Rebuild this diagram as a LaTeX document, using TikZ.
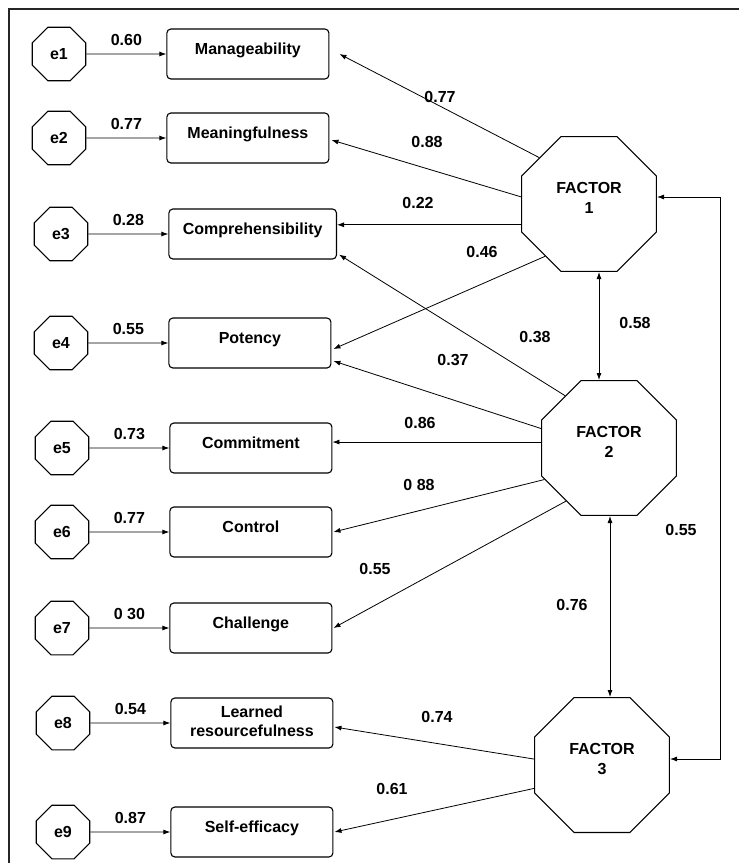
\documentclass[tikz,border=0pt]{standalone}
\usepackage{fontspec}
\setmainfont{Liberation Sans}
\usetikzlibrary{arrows.meta,positioning,shapes.geometric}

\begin{document}
\begin{tikzpicture}[
  x=1pt, y=-1pt,
  font=\fontsize{16}{19}\selectfont\bfseries,
  err/.style={draw, regular polygon, regular polygon sides=8,
    minimum size=58pt, inner sep=0pt, line width=1.1pt},
  fac/.style={draw, regular polygon, regular polygon sides=8,
    minimum size=146pt, inner sep=0pt, line width=1.1pt, align=center,
    text depth=12pt, font=\fontsize{16}{20}\selectfont\bfseries},
  box/.style={draw, rounded corners=4pt, minimum width=162pt,
    minimum height=50pt, inner xsep=14pt, align=center, line width=1.1pt,
    text depth=11pt},
  arr/.style={-{Latex[length=7pt, width=5pt]}, line width=0.8pt},
  dbl/.style={{Latex[length=7pt, width=5pt]}-{Latex[length=7pt, width=5pt]},
    line width=0.8pt},
  lbl/.style={inner sep=1pt}
]
  \useasboundingbox (0,0) rectangle (739,863);
  \draw[line width=2.5pt, black!85] (9,863) -- (9,9) -- (739,9);

  % error terms and indicators
  \node[err] (e1) at (59,54) {e1};
  \node[box, right=80pt of e1] (mng) {Manageability};
  \node[err] (e2) at (59,138) {e2};
  \node[box, right=80pt of e2] (mea) {Meaningfulness};
  \node[err] (e3) at (61,234) {e3};
  \node[box, right=80pt of e3] (cmp) {Comprehensibility};
  \node[err] (e4) at (61,343) {e4};
  \node[box, right=80pt of e4] (pot) {Potency};
  \node[err] (e5) at (62,448) {e5};
  \node[box, right=80pt of e5] (com) {Commitment};
  \node[err] (e6) at (62,532) {e6};
  \node[box, right=80pt of e6] (ctl) {Control};
  \node[err] (e7) at (62,628) {e7};
  \node[box, right=80pt of e7] (chl) {Challenge};
  \node[err] (e8) at (63,723) {e8};
  \node[box, right=80pt of e8, text depth=4pt] (lrn) {Learned\\resourcefulness};
  \node[err] (e9) at (63,832) {e9};
  \node[box, right=80pt of e9] (slf) {Self-efficacy};

  % factors
  \node[fac] (f1) at (589,204) {FACTOR\\1};
  \node[fac] (f2) at (609,448) {FACTOR\\2};
  \node[fac] (f3) at (602,765) {FACTOR\\3};

  \draw[arr] (e1) -- node[lbl, above=7pt] (w1) {0.60} (mng);
  \draw[arr] (e2) -- node[lbl, above=7pt] (w2) {0.77} (mea);
  \draw[arr] (e3) -- node[lbl, above=7pt] (w3) {0.28} (cmp);
  \draw[arr] (e4) -- node[lbl, above=7pt] (w4) {0.55} (pot);
  \draw[arr] (e5) -- node[lbl, above=7pt] (w5) {0.73} (com);
  \draw[arr] (e6) -- node[lbl, above=7pt] (w6) {0.77} (ctl);
  \draw[arr] (e7) -- node[lbl, above=7pt] (w7) {0 30} (chl);
  \draw[arr] (e8) -- node[lbl, above=7pt] (w8) {0.54} (lrn);
  \draw[arr] (e9) -- node[lbl, above=7pt] (w9) {0.87} (slf);

  % loadings
  \draw[arr] (f1.137) -- ([xshift=10pt]mng.east);
  \draw[arr] (f1.174) -- ([xshift=2pt, yshift=-2pt]mea.east);
  \draw[arr] (f1.197) -- (f1.197 -| cmp.east);
  \draw[arr] (f1.230) -- ([xshift=2pt, yshift=-6pt]pot.east);
  \draw[arr] (f2.130) -- ([xshift=2pt, yshift=5pt]cmp.south east);
  \draw[arr] (f2.164) -- ([xshift=2pt, yshift=-18pt]pot.east);
  \draw[arr] (f2.175) -- (f2.175 -| com.east);
  \draw[arr] (f2.206) -- ([xshift=1pt]ctl.east);
  \draw[arr] (f2.231) -- ([xshift=1pt]chl.east);
  \draw[arr] (f3.175) -- ([xshift=1pt, yshift=-4pt]lrn.east);
  \draw[arr] (f3.199) -- ([xshift=1pt]slf.east);

  % correlations
  \draw[dbl] ([xshift=10pt]f1.south) -- ([xshift=10pt]f1.south |- f2.north);
  \draw[dbl] ([xshift=1pt]f2.south) -- ([xshift=1pt]f2.south |- f3.north);
  \draw[dbl] ([yshift=7pt]f1.east) -- ++(63,0) |- ([yshift=6pt]f3.east);

  \node[lbl] (l1) at (440,97) {0.77};
  \node[lbl] (l2) at (427,142) {0.88};
  \node[lbl] (l3) at (418,203) {0.22};
  \node[lbl] (l4) at (482,252) {0.46};
  \node[lbl] (l5) at (535,337) {0.38};
  \node[lbl] (l6) at (453,360) {0.37};
  \node[lbl] (l7) at (420,423) {0.86};
  \node[lbl] (l8) at (419,485) {0 88};
  \node[lbl] (l9) at (375,569) {0.55};
  \node[lbl] (l10) at (437,717) {0.74};
  \node[lbl] (l11) at (392,789) {0.61};
  \node[lbl] (c12) at (635,323) {0.58};
  \node[lbl] (c23) at (572,605) {0.76};
  \node[lbl] (c13) at (681,530) {0.55};
\end{tikzpicture}
\end{document}
